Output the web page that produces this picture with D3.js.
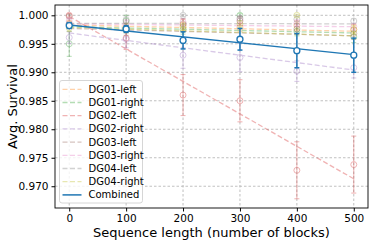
<!DOCTYPE html>
<html><head><meta charset="utf-8">
<script src="https://cdn.jsdelivr.net/npm/d3@7"></script>
<style>body{margin:0;background:#fff}svg{display:block;font-family:"DejaVu Sans",sans-serif}</style>
</head><body><svg id="c" width="374" height="245"></svg>
<script>
const seqLengths = [0, 100, 200, 300, 400, 500];
const seriesNames = ["DG01-left","DG01-right","DG02-left","DG02-right","DG03-left","DG03-right","DG04-left","DG04-right","Combined"];
const seriesColors = ["#ff7f0e","#2ca02c","#d62728","#9467bd","#8c564b","#e377c2","#7f7f7f","#bcbd22","#1f77b4"];
// mean survival per sequence length
const dg01LeftMean  = [0.9985, 0.9978, 0.9983, 0.9979, 0.9982, 0.9975];
const dg01RightMean = [0.9950, 0.9990, 0.9975, 1.0000, 0.9972, 0.9962];
const dg02LeftMean  = [1.0000, 0.9960, 0.9860, 0.9850, 0.9728, 0.9738];
const dg02RightMean = [0.9961, 0.9958, 0.9930, 0.9926, 0.9902, 0.9908];
const dg03LeftMean  = [0.9998, 0.9975, 0.9985, 0.9990, 0.9976, 0.9968];
const dg03RightMean = [0.9990, 0.9986, 0.9988, 0.9992, 0.9986, 0.9980];
const dg04LeftMean  = [0.9985, 0.9992, 1.0000, 0.9995, 0.9993, 0.9990];
const dg04RightMean = [0.9978, 0.9976, 0.9980, 0.9985, 1.0000, 0.9975];
const combinedMean  = [0.9982, 0.9976, 0.9956, 0.9958, 0.9938, 0.9930];
// error bar half-widths
const dg01LeftErr  = [0.0006, 0.0008, 0.0010, 0.0007, 0.0008, 0.0009];
const dg01RightErr = [0.0022, 0.0010, 0.0008, 0.0003, 0.0008, 0.0010];
const dg02LeftErr  = [0.0003, 0.0020, 0.0036, 0.0037, 0.0050, 0.0050];
const dg02RightErr = [0.0010, 0.0015, 0.0023, 0.0025, 0.0018, 0.0018];
const dg03LeftErr  = [0.0003, 0.0010, 0.0009, 0.0008, 0.0009, 0.0010];
const dg03RightErr = [0.0005, 0.0006, 0.0006, 0.0005, 0.0006, 0.0006];
const dg04LeftErr  = [0.0004, 0.0005, 0.0002, 0.0004, 0.0004, 0.0004];
const dg04RightErr = [0.0006, 0.0007, 0.0006, 0.0006, 0.0002, 0.0007];
const combinedErr  = [0.0005, 0.0006, 0.0015, 0.0019, 0.0030, 0.0030];
// fitted decay curve value at first and last sequence length
const fitStart = [0.9983, 0.9980, 0.9998, 0.9969, 0.9977, 0.9985, 0.9986, 0.9979, 0.9983];
const fitEnd   = [0.9972, 0.9969, 0.9713, 0.9904, 0.9964, 0.9980, 0.9985, 0.9964, 0.9931];
const yTicks = [0.970, 0.975, 0.980, 0.985, 0.990, 0.995, 1.000];
const xTicks = [0, 100, 200, 300, 400, 500];

const means = [dg01LeftMean, dg01RightMean, dg02LeftMean, dg02RightMean, dg03LeftMean, dg03RightMean, dg04LeftMean, dg04RightMean, combinedMean];
const errs = [dg01LeftErr, dg01RightErr, dg02LeftErr, dg02RightErr, dg03LeftErr, dg03RightErr, dg04LeftErr, dg04RightErr, combinedErr];

const svg = d3.select("#c");
const L = 55, R = 368, T = 5, B = 208;
const x = d3.scaleLinear().domain([-25, 525]).range([L, R]);
const y = d3.scaleLinear().domain([0.96618, 1.00181]).range([B, T]);

// grid
const grid = svg.append("g");
grid.selectAll(".gx").data(xTicks).join("line")
  .attr("x1", d => x(d)).attr("x2", d => x(d)).attr("y1", T).attr("y2", B)
  .attr("stroke", "#b0b0b0").attr("stroke-width", 0.8).attr("stroke-dasharray", "2.5,2");
grid.selectAll(".gy").data(yTicks).join("line")
  .attr("y1", d => y(d)).attr("y2", d => y(d)).attr("x1", L).attr("x2", R)
  .attr("stroke", "#b0b0b0").attr("stroke-width", 0.8).attr("stroke-dasharray", "2.5,2");

const plot = svg.append("g");
seriesNames.forEach((name, i) => {
  const combined = i === seriesNames.length - 1;
  const col = seriesColors[i];
  const op = combined ? 1 : 0.35;
  const g = plot.append("g").attr("opacity", op);
  const pts = seqLengths.map((s, k) => ({s, m: means[i][k], e: errs[i][k]}));
  // fit line
  g.append("path")
    .datum([[seqLengths[0], fitStart[i]], [seqLengths[seqLengths.length - 1], fitEnd[i]]])
    .attr("d", d3.line().x(d => x(d[0])).y(d => y(d[1])))
    .attr("fill", "none").attr("stroke", col).attr("stroke-width", combined ? 1.5 : 1.3)
    .attr("stroke-dasharray", combined ? null : "5,2.5");
  // error bars
  const eb = g.selectAll(".eb").data(pts).join("g");
  eb.append("line").attr("x1", d => x(d.s)).attr("x2", d => x(d.s))
    .attr("y1", d => y(d.m - d.e)).attr("y2", d => y(d.m + d.e))
    .attr("stroke", col).attr("stroke-width", combined ? 1.5 : 1);
  [-1, 1].forEach(sg => {
    eb.append("line").attr("x1", d => x(d.s) - 2.5).attr("x2", d => x(d.s) + 2.5)
      .attr("y1", d => y(d.m + sg * d.e)).attr("y2", d => y(d.m + sg * d.e))
      .attr("stroke", col).attr("stroke-width", combined ? 1.5 : 1);
  });
  eb.append("circle").attr("cx", d => x(d.s)).attr("cy", d => y(d.m)).attr("r", 3)
    .attr("fill", combined ? "#fff" : "none").attr("stroke", col).attr("stroke-width", combined ? 1.3 : 1);
});

// axes
const ax = svg.append("g").attr("transform", `translate(0,${B})`)
  .call(d3.axisBottom(x).tickValues(xTicks).tickFormat(d3.format("d")).tickSize(3.5).tickPadding(3));
const ay = svg.append("g").attr("transform", `translate(${L},0)`)
  .call(d3.axisLeft(y).tickValues(yTicks).tickFormat(d3.format(".3f")).tickSize(3.5).tickPadding(3));
[ax, ay].forEach(a => {
  a.select(".domain").remove();
  a.selectAll("text").attr("font-size", 10.5).attr("fill", "#000").attr("font-family", "DejaVu Sans");
  a.selectAll("line").attr("stroke", "#000");
});
svg.append("rect").attr("x", L).attr("y", T).attr("width", R - L).attr("height", B - T)
  .attr("fill", "none").attr("stroke", "#000").attr("stroke-width", 0.9);

svg.append("text").attr("x", (L + R) / 2).attr("y", 237).attr("text-anchor", "middle")
  .attr("font-size", 13).text("Sequence length (number of blocks)");
svg.append("text").attr("transform", `translate(17,${(T + B) / 2}) rotate(-90)`).attr("text-anchor", "middle")
  .attr("font-size", 13).text("Avg. Survival");

// legend
const lg = svg.append("g");
lg.append("rect").attr("x", 59.5).attr("y", 80.5).attr("width", 83).attr("height", 122.5)
  .attr("rx", 2.5).attr("fill", "#fff").attr("fill-opacity", 0.8).attr("stroke", "#ccc").attr("stroke-width", 0.8);
seriesNames.forEach((name, i) => {
  const combined = i === seriesNames.length - 1;
  const yy = 89.3 + i * 13.2;
  lg.append("line").attr("x1", 62.5).attr("x2", 81.5).attr("y1", yy).attr("y2", yy)
    .attr("stroke", seriesColors[i]).attr("stroke-width", combined ? 1.5 : 1.3)
    .attr("opacity", combined ? 1 : 0.35).attr("stroke-dasharray", combined ? null : "5,2.5");
  lg.append("text").attr("x", 88.5).attr("y", yy).attr("dy", "0.35em").attr("font-size", 10).text(name);
});
</script></body></html>
